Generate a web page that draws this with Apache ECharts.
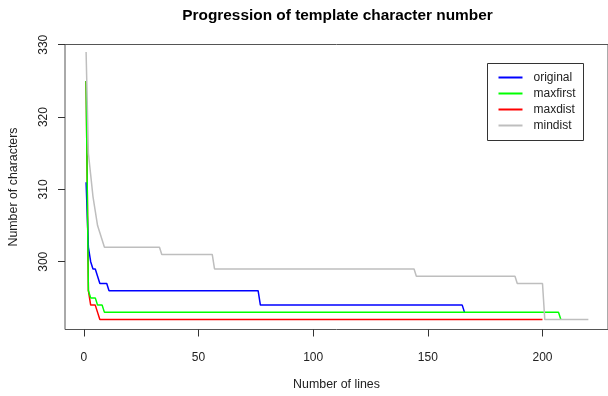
<!DOCTYPE html>
<html><head><meta charset="utf-8">
<script src="https://cdn.jsdelivr.net/npm/echarts@6/dist/echarts.min.js"></script>
<style>html,body{margin:0;padding:0;background:#fff}#c{width:608px;height:396px}</style>
</head><body><div id="c"></div>
<script>
// Breakpoints of each step series (x = number of lines, y = number of characters)
const originalX = [1, 2, 3, 4, 5, 6, 7, 10, 11, 76, 77, 165, 166];
const originalY = [311, 302, 300, 299, 299, 298, 297, 297, 296, 296, 294, 294, 293];
const maxfirstX = [1, 2, 3, 5, 6, 8, 9, 207, 208];
const maxfirstY = [325, 296, 295, 295, 294, 294, 293, 293, 292];
const maxdistX = [1, 2, 3, 5, 6, 7, 200];
const maxdistY = [325, 296, 294, 294, 293, 292, 292];
const mindistX = [1, 2, 3, 4, 5, 6, 7, 8, 9, 33, 34, 56, 57, 144, 145, 188, 189, 200, 201, 220];
const mindistY = [329, 315, 312, 309, 307, 305, 304, 303, 302, 302, 301, 301, 299, 299, 298, 298, 297, 297, 292, 292];

const seriesNames = ['original', 'maxfirst', 'maxdist', 'mindist'];
const seriesColors = ['#0000FF', '#00FF00', '#FF0000', '#BEBEBE'];
const seriesZ = [2, 3, 1, 4];
const xTicks = [0, 50, 100, 150, 200];
const yTicks = [300, 310, 320, 330];

const FONT = '"Liberation Sans", Arial, Helvetica, sans-serif';
const xs = [originalX, maxfirstX, maxdistX, mindistX];
const ys = [originalY, maxfirstY, maxdistY, mindistY];

const chart = echarts.init(document.getElementById('c'), null, {renderer: 'canvas'});
chart.setOption({
  animation: false,
  backgroundColor: '#fff',
  title: {
    text: 'Progression of template character number',
    left: 337.5, top: 8, textAlign: 'center', padding: 0,
    textStyle: {fontSize: 15.4, fontWeight: 'bold', color: '#000', fontFamily: FONT}
  },
  grid: {
    left: 64.5, top: 44.5, right: -2.7, height: 285,
    show: true, borderColor: '#555', borderWidth: 1, backgroundColor: 'transparent'
  },
  legend: {
    orient: 'vertical', left: 487.5, top: 63.5, padding: [7, 8, 8, 11],
    itemGap: 2, itemWidth: 24, itemHeight: 2, icon: 'rect',
    borderColor: '#333', borderWidth: 1, backgroundColor: '#fff',
    textStyle: {fontSize: 12, color: '#222', fontFamily: FONT, padding: [0, 0, 0, 6], lineHeight: 14},
    data: seriesNames
  },
  xAxis: {
    type: 'value', min: -8.2, max: 228.56,
    axisLine: {show: false, onZero: false},
    splitLine: {show: false},
    axisTick: {show: true, length: 7, lineStyle: {color: '#333'}, customValues: xTicks},
    axisLabel: {customValues: xTicks, margin: 22, fontSize: 12, color: '#222', fontFamily: FONT},
    name: 'Number of lines', nameLocation: 'middle', nameGap: 49.5,
    nameTextStyle: {fontSize: 12.4, color: '#222', fontFamily: FONT}
  },
  yAxis: {
    type: 'value', min: 290.63, max: 330.03,
    axisLine: {show: false, onZero: false},
    splitLine: {show: false},
    axisTick: {show: true, length: 7, lineStyle: {color: '#333'}, customValues: yTicks},
    axisLabel: {customValues: yTicks, rotate: 90, margin: 15, fontSize: 12, color: '#222', fontFamily: FONT},
    name: 'Number of characters', nameLocation: 'middle', nameGap: 45,
    nameTextStyle: {fontSize: 12.4, color: '#222', fontFamily: FONT}
  },
  series: seriesNames.map((n, i) => ({
    name: n, type: 'line', symbol: 'none', showSymbol: false,
    z: seriesZ[i],
    color: seriesColors[i],
    lineStyle: {width: 1.5, color: seriesColors[i]},
    data: xs[i].map((x, j) => [x, ys[i][j]])
  }))
});
</script>
</body></html>
